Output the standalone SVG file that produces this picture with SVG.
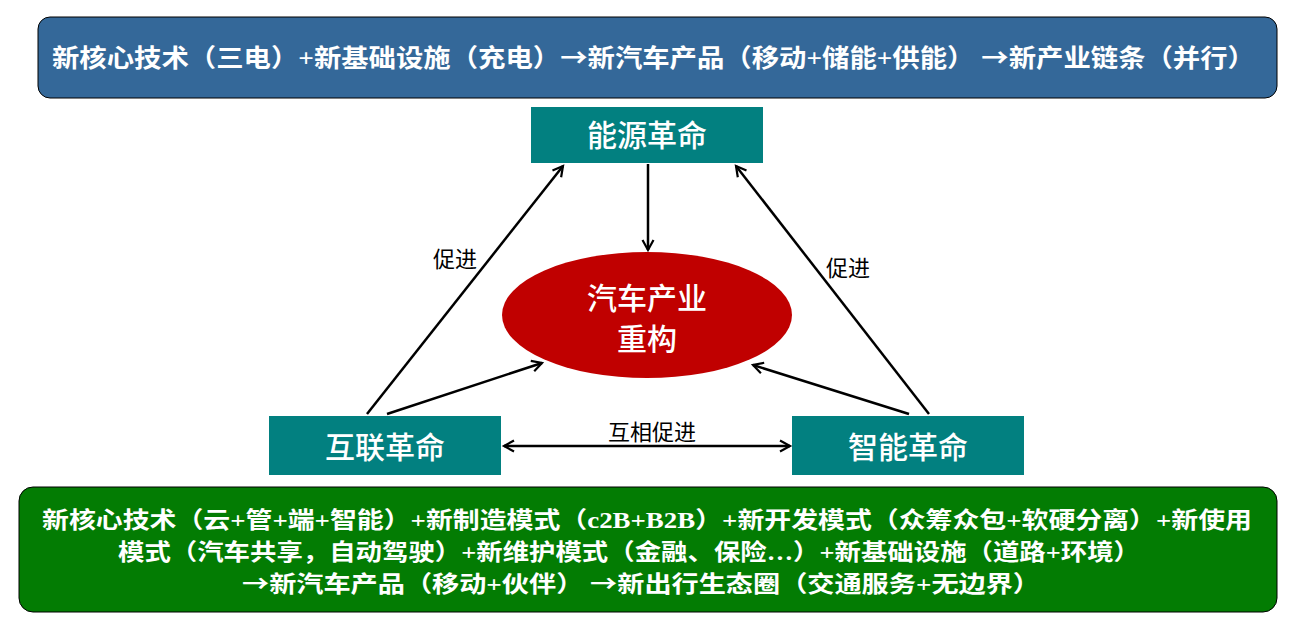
<svg xmlns="http://www.w3.org/2000/svg" width="1300" height="631" viewBox="0 0 1300 631">
<defs>
<style>
.t{font-family:"Liberation Serif","Noto Sans CJK SC",serif;fill:#fff;font-weight:bold}
.n{font-family:"Liberation Serif","Noto Sans CJK SC",serif;fill:#fff;font-weight:500}
.ar{font-family:"Noto Sans CJK SC",sans-serif}
.lbl{font-family:"Liberation Serif","Noto Sans CJK SC",serif;fill:#000;font-size:22px}
.node{fill:#028080}
.ln{stroke:#000;stroke-width:2.5;fill:none}
</style>
<marker id="ah2" viewBox="0 0 12 12" refX="11" refY="6" markerWidth="12" markerHeight="12" markerUnits="userSpaceOnUse" orient="auto-start-reverse" overflow="visible">
<path d="M1,0.5 L11,6 L1,11.5" fill="none" stroke="#000" stroke-width="2.2"/>
</marker>
</defs>
<rect width="1300" height="631" fill="#fff"/>
<g id="top-box">
<rect x="38" y="17" width="1239" height="81" rx="12" fill="#346899" stroke="#000" stroke-width="1"/>
<text class="t" x="52" y="67" font-size="25" textLength="1203" lengthAdjust="spacingAndGlyphs">新核心技术（三电）+新基础设施（充电）<tspan class="ar">→</tspan>新汽车产品（移动+储能+供能） <tspan class="ar">→</tspan>新产业链条（并行）</text>
</g>
<g id="connectors">
<line class="ln" x1="648" y1="164" x2="648" y2="250" marker-end="url(#ah2)"/>
<line class="ln" x1="367" y1="414" x2="563" y2="166" marker-end="url(#ah2)"/>
<line class="ln" x1="387" y1="414" x2="542" y2="363" marker-end="url(#ah2)"/>
<line class="ln" x1="929" y1="414" x2="736" y2="166" marker-end="url(#ah2)"/>
<line class="ln" x1="909" y1="414" x2="753" y2="365" marker-end="url(#ah2)"/>
<line class="ln" x1="504" y1="446" x2="790" y2="446" marker-start="url(#ah2)" marker-end="url(#ah2)"/>
<text class="lbl" x="455" y="267" text-anchor="middle">促进</text>
<text class="lbl" x="848" y="276" text-anchor="middle">促进</text>
<text class="lbl" x="652" y="440" text-anchor="middle">互相促进</text>
</g>
<g id="energy">
<rect class="node" x="531" y="107" width="232" height="56"/>
<text class="n" x="647" y="146" font-size="30" text-anchor="middle">能源革命</text>
</g>
<g id="center">
<ellipse cx="647" cy="315" rx="145" ry="63" fill="#C00000"/>
<text class="n" x="647" y="309" font-size="30" text-anchor="middle">汽车产业</text>
<text class="n" x="647" y="350" font-size="30" text-anchor="middle">重构</text>
</g>
<g id="internet">
<rect class="node" x="269" y="416" width="232" height="59"/>
<text class="n" x="385" y="458" font-size="30" text-anchor="middle">互联革命</text>
</g>
<g id="smart">
<rect class="node" x="792" y="416" width="232" height="59"/>
<text class="n" x="908" y="458" font-size="30" text-anchor="middle">智能革命</text>
</g>
<g id="bottom-box">
<rect x="19" y="487" width="1258" height="125" rx="14" fill="#037C03" stroke="#000" stroke-width="1"/>
<text class="t" x="42" y="528" font-size="23" textLength="1210" lengthAdjust="spacingAndGlyphs">新核心技术（云+管+端+智能）+新制造模式（c2B+B2B）+新开发模式（众筹众包+软硬分离）+新使用</text>
<text class="t" x="118" y="560" font-size="23" textLength="1022" lengthAdjust="spacingAndGlyphs">模式（汽车共享，自动驾驶）+新维护模式（金融、保险…）+新基础设施（道路+环境）</text>
<text class="t" x="242" y="592" font-size="23" textLength="798" lengthAdjust="spacingAndGlyphs"><tspan class="ar">→</tspan>新汽车产品（移动+伙伴） <tspan class="ar">→</tspan>新出行生态圈（交通服务+无边界）</text>
</g>
</svg>
